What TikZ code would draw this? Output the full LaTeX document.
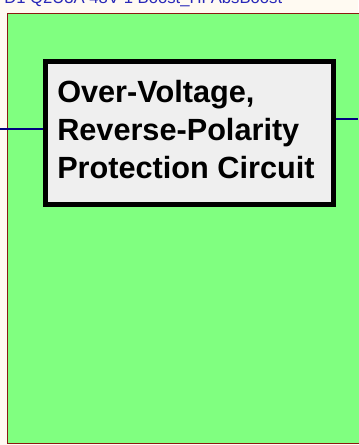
\documentclass[tikz,border=0pt]{standalone}
\usepackage{fontspec}
\setmainfont{Liberation Sans}
\usetikzlibrary{positioning}
\definecolor{pagebg}{HTML}{FFFAF2}
\definecolor{sheetgreen}{HTML}{80FF80}
\definecolor{sheetedge}{HTML}{8B1A10}
\definecolor{wirenavy}{HTML}{000080}
\definecolor{titleblue}{HTML}{2828B8}
\definecolor{blockgray}{HTML}{EFEFEF}
\tikzset{
  block/.style={draw=black,line width=3.75pt,fill=blockgray,
    minimum width=216pt,minimum height=107.25pt,inner sep=0pt},
  blocktext/.style={font=\fontsize{23}{28.5}\selectfont\bfseries,
    align=left,inner sep=0pt},
  wire/.style={draw=wirenavy,line width=1.1pt}
}

\begin{document}
\begin{tikzpicture}[x=0.75pt,y=-0.75pt]
  % page and sheet
  \fill[pagebg] (0,0) rectangle (358,445);
  \useasboundingbox (0,0) rectangle (358,445);
  \filldraw[fill=sheetgreen,draw=sheetedge,line width=1pt] (7.5,13.5) rectangle (362,443.5);
  \node[anchor=base west,text=titleblue,font=\fontsize{12.5}{14}\selectfont,inner sep=0pt]
    (sheettitle) at (4,3.5) {D1 Q2U3A 48V 1 Boost\_HFAbsBoost};
  % protection block
  \node[block] (protection) at (189.5,133) {};
  \node[blocktext,anchor=base west] (protlabel) at (57,179)
    {Over-Voltage,\\Reverse-Polarity\\Protection Circuit};
  % wires
  \coordinate (wirein) at (0,129);
  \coordinate (wireout) at (358,119);
  \draw[wire] (wirein) -- (wirein -| protection.west);
  \draw[wire] (protection.east |- wireout) -- (wireout);
\end{tikzpicture}
\end{document}
